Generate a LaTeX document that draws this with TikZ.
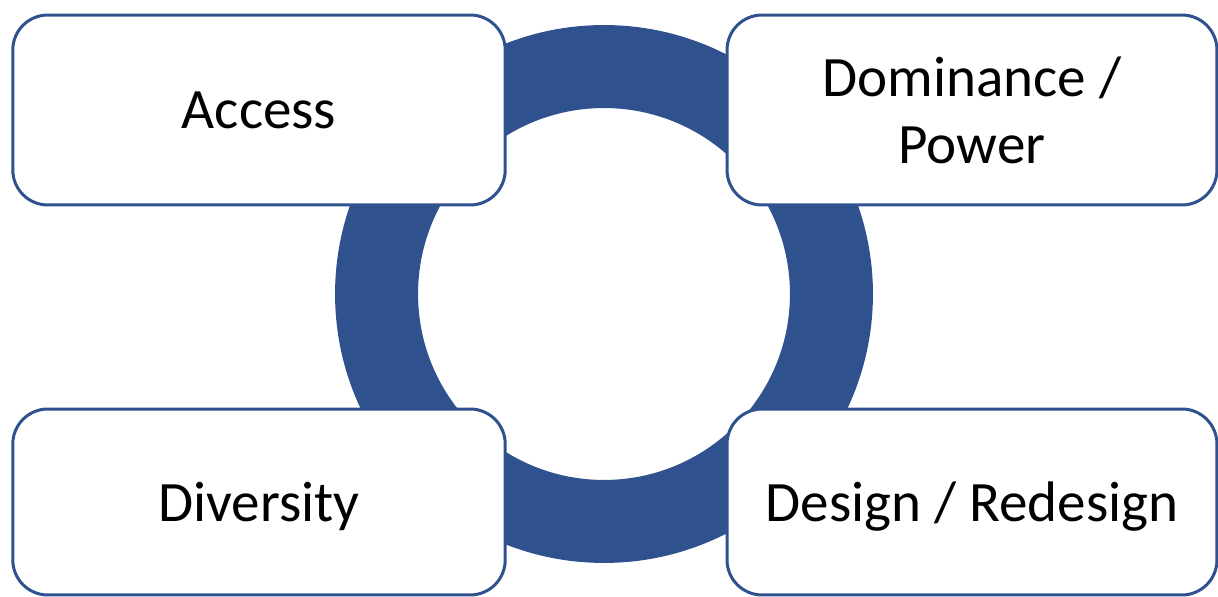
\documentclass[tikz,border=0pt]{standalone}
\usepackage{fontspec}
\setmainfont{Carlito}
\usetikzlibrary{positioning}

\definecolor{ringblue}{RGB}{47,82,143}

\tikzset{
  box/.style={draw=ringblue, line width=0.06cm, fill=white, rounded corners=0.7cm,
    minimum width=9.85cm, align=center, text depth=0pt,
    font=\fontsize{32.5}{37.8}\selectfont}
}

\begin{document}
\begin{tikzpicture}[x=0.02cm, y=-0.02cm]

% Canvas
\useasboundingbox (0,0) rectangle (1218,597);

% Radii of the ring
\def\ro{5.38cm}
\def\ri{3.72cm}

% Center of the ring
\coordinate (O) at (604,294);

% Draw ring
\fill[ringblue, even odd rule] (O) circle (\ro) (O) circle (\ri);

% Four boxes round the ring
\node[box, minimum height=3.8cm] (access) at (259,110) {Access};
\node[box, minimum height=3.8cm, minimum width=9.8cm] (power) at (972,110) {Dominance /\\Power};
\node[box, minimum height=3.72cm] (diversity) at (259,502) {Diversity};
\node[box, minimum height=3.72cm, minimum width=9.8cm] (design) at (972,502) {Design / Redesign};

\end{tikzpicture}
\end{document}
